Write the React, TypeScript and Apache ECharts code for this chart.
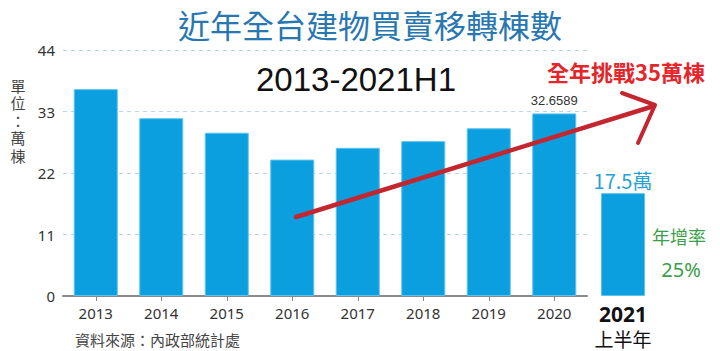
import React, { useEffect, useRef } from "react";
import * as echarts from "echarts";

const years = ["2013", "2014", "2015", "2016", "2017", "2018", "2019", "2020"];
const values = [37.0, 31.8, 29.2, 24.4, 26.5, 27.7, 30.0, 32.6589];
const halfYear = ["2021"];
const halfValues = [18.4];
const yTicks = [0, 11, 22, 33, 44];
const valueLabel2020 = "32.6589";
const halfLabel = "17.5萬";
const unitChars = ["單", "位", "：", "萬", "棟"];

const FONT = "'Noto Sans CJK TC', 'Noto Sans', sans-serif";
const BAR = "#0c9fe0";

export default function App() {
  const ref = useRef<HTMLDivElement>(null);
  useEffect(() => {
    document.body.style.margin = "0";
    const chart = echarts.init(ref.current!, null, { renderer: "svg" });
    const yMax = yTicks[yTicks.length - 1];
    const yInterval = yTicks[1] - yTicks[0];
    chart.setOption({
      animation: false,
      backgroundColor: "#ffffff",
      textStyle: { fontFamily: FONT },
      grid: [
        { left: 63, right: 133, top: 50, bottom: 55 },
        { left: 590, right: 64, top: 50, bottom: 55 },
      ],
      xAxis: [
        {
          type: "category",
          gridIndex: 0,
          data: years,
          axisLine: { show: true, lineStyle: { color: "#8a8a8a", width: 2 } },
          axisTick: { show: true, alignWithLabel: true, length: 5, lineStyle: { color: "#8a8a8a" } },
          axisLabel: { color: "#333", fontSize: 15, margin: 9, fontFamily: "'Noto Sans', sans-serif" },
        },
        {
          type: "category",
          gridIndex: 1,
          data: halfYear,
          axisLine: { show: false },
          axisTick: { show: false },
          axisLabel: {
            margin: 6,
            formatter: (v: string) => `{a|${v}}\n{b|上半年}`,
            rich: {
              a: { fontSize: 21, fontWeight: "bold", color: "#111", lineHeight: 24, fontFamily: "'Noto Sans', sans-serif" },
              b: { fontSize: 19, color: "#111", lineHeight: 24, fontFamily: FONT },
            },
          },
        },
      ],
      yAxis: [
        {
          type: "value",
          gridIndex: 0,
          min: 0,
          max: yMax,
          interval: yInterval,
          axisLine: { show: false },
          axisTick: { show: false },
          axisLabel: { color: "#333", fontSize: 15, margin: 8, fontFamily: "'Noto Sans', sans-serif" },
          splitLine: { show: true, lineStyle: { color: "#b9d6e2", type: [4, 4], width: 1 } },
        },
        {
          type: "value",
          gridIndex: 1,
          min: 0,
          max: yMax,
          interval: yInterval,
          show: false,
          splitLine: { show: false },
        },
      ],
      series: [
        {
          type: "bar",
          xAxisIndex: 0,
          yAxisIndex: 0,
          barWidth: 44,
          itemStyle: { color: BAR, borderColor: "#5cc3ee", borderWidth: 1 },
          data: values.map((v, i) =>
            i === values.length - 1
              ? {
                  value: v,
                  label: {
                    show: true,
                    position: "top",
                    distance: 6,
                    formatter: valueLabel2020,
                    color: "#333",
                    fontSize: 13,
                    fontFamily: "'Liberation Sans Narrow', 'Liberation Sans', sans-serif",
                  },
                }
              : v
          ),
        },
        {
          type: "bar",
          xAxisIndex: 1,
          yAxisIndex: 1,
          barWidth: 44,
          itemStyle: { color: BAR, borderColor: "#5cc3ee", borderWidth: 1 },
          label: {
            show: true,
            position: "top",
            distance: 3,
            formatter: halfLabel,
            color: "#2a9fd4",
            fontSize: 20,
            fontFamily: FONT,
          },
          data: halfValues,
        },
      ],
      graphic: [
        {
          type: "text",
          x: 370,
          y: 24,
          style: {
            text: "近年全台建物買賣移轉棟數",
            fontSize: 32,
            fill: "#2877b0",
            fontFamily: FONT,
            align: "center",
            verticalAlign: "middle",
          },
        },
        {
          type: "text",
          x: 356,
          y: 79,
          style: {
            text: "2013-2021H1",
            fontSize: 33,
            fill: "#111",
            fontFamily: "'Liberation Sans', sans-serif",
            align: "center",
            verticalAlign: "middle",
          },
        },
        ...unitChars.map((c, i) => ({
          type: "text",
          x: 18,
          y: 85 + i * 17.5,
          style: {
            text: c,
            fontSize: 15,
            lineHeight: 15,
            fill: "#444",
            fontFamily: FONT,
            align: "center",
            verticalAlign: "middle",
          },
        })),
        {
          type: "text",
          x: 626,
          y: 71,
          style: {
            text: "全年挑戰35萬棟",
            fontSize: 22,
            fontWeight: "bold",
            fill: "#e3262c",
            fontFamily: FONT,
            align: "center",
            verticalAlign: "middle",
          },
        },
        {
          type: "group",
          z: 100,
          children: [
            {
              type: "polyline",
              z: 100,
              shape: { points: [[296, 217], [654, 106]] },
              style: { stroke: "#c4262f", lineWidth: 4.5, lineCap: "round" },
            },
            {
              type: "polyline",
              z: 100,
              shape: { points: [[622, 93], [655, 105], [638, 143]] },
              style: { stroke: "#c4262f", lineWidth: 4, fill: null, lineCap: "round", lineJoin: "round" },
            },
          ],
        },
        {
          type: "text",
          x: 679,
          y: 236,
          style: {
            text: "年增率",
            fontSize: 18,
            fill: "#3a9e4a",
            fontFamily: FONT,
            align: "center",
            verticalAlign: "middle",
          },
        },
        {
          type: "text",
          x: 681,
          y: 269,
          style: {
            text: "25%",
            fontSize: 20,
            fill: "#3a9e4a",
            fontFamily: "'Noto Sans', sans-serif",
            align: "center",
            verticalAlign: "middle",
          },
        },
        {
          type: "text",
          x: 75,
          y: 339,
          style: {
            text: "資料來源：內政部統計處",
            fontSize: 15,
            fill: "#444",
            fontFamily: FONT,
            verticalAlign: "middle",
          },
        },
      ],
    });
    return () => chart.dispose();
  }, []);
  return <div ref={ref} style={{ width: 720, height: 351 }} />;
}
